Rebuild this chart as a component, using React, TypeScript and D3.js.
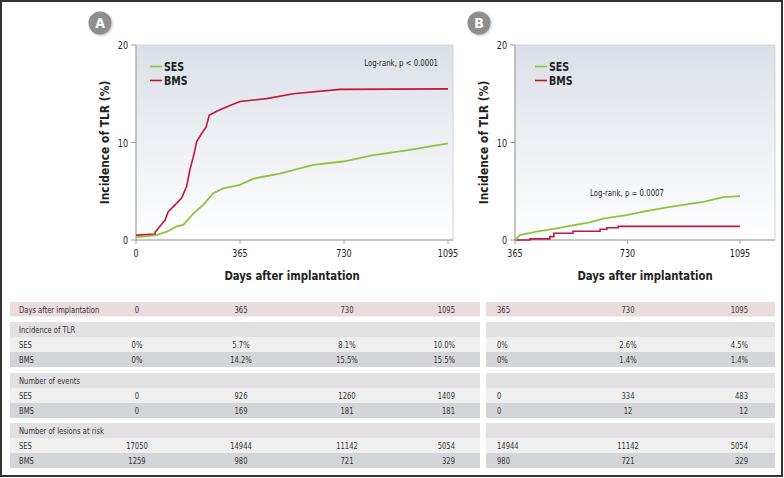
import React from "react";
import * as d3 from "d3";

// ---------- data ----------
const daysBmsA = [0, 67, 67, 84, 102, 113, 137, 160, 178, 189, 201, 213, 230, 246, 257, 283, 330, 365, 459, 552, 716, 1095];
const bmsA = [0.5, 0.6, 0.8, 1.4, 2.05, 2.9, 3.6, 4.3, 5.5, 7.2, 8.5, 10.1, 10.9, 11.6, 12.8, 13.2, 13.8, 14.2, 14.5, 15.0, 15.45, 15.5];
const daysSesA = [0, 72, 108, 143, 166, 201, 236, 271, 306, 365, 412, 505, 622, 727, 833, 950, 1095];
const sesA = [0.27, 0.5, 0.85, 1.4, 1.55, 2.7, 3.6, 4.8, 5.3, 5.65, 6.3, 6.8, 7.7, 8.05, 8.7, 9.2, 9.9];

const daysSesB = [365, 381, 435, 500, 543, 608, 651, 727, 781, 868, 976, 1041, 1095];
const sesB = [0, 0.5, 0.85, 1.2, 1.44, 1.8, 2.2, 2.56, 2.9, 3.4, 3.9, 4.4, 4.5];
const daysBmsB = [365, 414, 478, 491, 553, 641, 663, 700, 1095];
const bmsB = [0, 0.12, 0.35, 0.7, 0.9, 1.1, 1.26, 1.4, 1.4];

const yTicks = [0, 10, 20];
const xTicksA = [0, 365, 730, 1095];
const xTicksB = [365, 730, 1095];

const seriesNames = ["SES", "BMS"];
const pLabelA = "Log-rank, p < 0.0001";
const pLabelB = "Log-rank, p = 0.0007";

const tableHeaderA = ["0", "365", "730", "1095"];
const incSesA = ["0%", "5.7%", "8.1%", "10.0%"];
const incBmsA = ["0%", "14.2%", "15.5%", "15.5%"];
const evSesA = ["0", "926", "1260", "1409"];
const evBmsA = ["0", "169", "181", "181"];
const riskSesA = ["17050", "14944", "11142", "5054"];
const riskBmsA = ["1259", "980", "721", "329"];

const tableHeaderB = ["365", "730", "1095"];
const incSesB = ["0%", "2.6%", "4.5%"];
const incBmsB = ["0%", "1.4%", "1.4%"];
const evSesB = ["0", "334", "483"];
const evBmsB = ["0", "12", "12"];
const riskSesB = ["14944", "11142", "5054"];
const riskBmsB = ["980", "721", "329"];

// ---------- styles ----------
const FONT = "'DejaVu Sans Condensed', 'Liberation Sans Narrow', sans-serif";
const SES_COLOR = "#8cc43f";
const BMS_COLOR = "#c4143c";
const TEXT = "#222";

function T(props: {
  x: number;
  y: number;
  size: number;
  sx?: number;
  anchor?: string;
  bold?: boolean;
  rotate?: number;
  fill?: string;
  children: React.ReactNode;
}) {
  const sx = props.sx ?? 1;
  const rot = props.rotate ? ` rotate(${props.rotate})` : "";
  return (
    <text
      transform={`translate(${props.x},${props.y})${rot} scale(${sx},1)`}
      textAnchor={props.anchor || "start"}
      fontFamily={FONT}
      fontSize={props.size}
      fontWeight={props.bold ? "bold" : "normal"}
      fill={props.fill || TEXT}
    >
      {props.children}
    </text>
  );
}

type PanelProps = {
  id: string;
  badge: string;
  badgeX: number;
  x0: number;
  x1: number;
  boxRight: number;
  domain: [number, number];
  ticks: number[];
  ses: [number[], number[]];
  bms: [number[], number[]];
  bmsStep: boolean;
  pLabel: string;
  pX: number;
  pY: number;
  pAnchor: string;
  legendX: number;
  titleX: number;
};

const TOP = 45;
const BOTTOM = 240;

function Panel(p: PanelProps) {
  const x = d3.scaleLinear().domain(p.domain).range([p.x0, p.x1]);
  const y = d3.scaleLinear().domain([0, 20]).range([BOTTOM, TOP]);
  const mk = (step: boolean) =>
    d3
      .line<[number, number]>()
      .x((d) => x(d[0]))
      .y((d) => y(d[1]))
      .curve(step ? d3.curveStepAfter : d3.curveLinear);
  const sesPts = p.ses[0].map((d, i) => [d, p.ses[1][i]] as [number, number]);
  const bmsPts = p.bms[0].map((d, i) => [d, p.bms[1][i]] as [number, number]);
  const gid = "grad" + p.id;
  return (
    <g>
      <defs>
        <linearGradient id={gid} x1="0" y1="0" x2="0" y2="1">
          <stop offset="0" stopColor="#dbe0e8" />
          <stop offset="1" stopColor="#ffffff" />
        </linearGradient>
        <filter id={"sh" + p.id} x="-50%" y="-50%" width="200%" height="200%">
          <feDropShadow dx="1" dy="1" stdDeviation="1" floodColor="#000" floodOpacity="0.25" />
        </filter>
      </defs>
      <circle cx={p.badgeX} cy={23} r={11.5} fill="#8e8e8e" filter={`url(#sh${p.id})`} />
      <T x={p.badgeX} y={28} size={14} bold anchor="middle" fill="#fff">
        {p.badge}
      </T>
      <rect x={p.x0} y={TOP} width={p.boxRight - p.x0} height={BOTTOM - TOP} fill={`url(#${gid})`} stroke="#d0d3d8" strokeWidth={1} />
      <line x1={p.x0} x2={p.x0} y1={TOP} y2={BOTTOM} stroke="#a0a0a0" />
      <line x1={p.x0} x2={p.boxRight} y1={BOTTOM} y2={BOTTOM} stroke="#a0a0a0" />
      {yTicks.map((t) => (
        <g key={"y" + t}>
          <line x1={p.x0 - 5} x2={p.x0} y1={y(t)} y2={y(t)} stroke="#a0a0a0" />
          <T x={p.x0 - 8} y={y(t) + 4} size={10.5} sx={0.85} anchor="end">
            {t}
          </T>
        </g>
      ))}
      {p.ticks.map((t) => (
        <g key={"x" + t}>
          <line x1={x(t)} x2={x(t)} y1={BOTTOM} y2={BOTTOM + 4} stroke="#a0a0a0" />
          <T x={x(t)} y={BOTTOM + 17} size={10.5} sx={0.85} anchor="middle">
            {t}
          </T>
        </g>
      ))}
      <path d={mk(p.bmsStep)(bmsPts) || ""} fill="none" stroke={BMS_COLOR} strokeWidth={1.6} />
      <path d={mk(false)(sesPts) || ""} fill="none" stroke={SES_COLOR} strokeWidth={1.8} />
      {seriesNames.map((s, i) => (
        <g key={s}>
          <line
            x1={p.legendX}
            x2={p.legendX + 12}
            y1={66.5 + i * 14}
            y2={66.5 + i * 14}
            stroke={i === 0 ? SES_COLOR : BMS_COLOR}
            strokeWidth={1.6}
          />
          <T x={p.legendX + 14} y={71 + i * 14} size={12} sx={0.88} bold>
            {s}
          </T>
        </g>
      ))}
      <T x={p.pX} y={p.pY} size={9} sx={0.86} anchor={p.pAnchor}>
        {p.pLabel}
      </T>
      <T x={p.x0 - 27} y={(TOP + BOTTOM) / 2} size={12.5} sx={0.95} bold anchor="middle" rotate={-90}>
        Incidence of TLR (%)
      </T>
      <T x={p.titleX} y={280} size={12.5} sx={0.9} bold anchor="middle">
        Days after implantation
      </T>
    </g>
  );
}

type Col = { x: number; anchor: string };

const ROW_H = 15;
const HEADER_Y = 302;
const GROUP_Y = [322, 373, 423];

const PINK = "#eadcdd";
const GROUP_BG = "#e2e0e2";
const SES_BG = "#efeff0";
const BMS_BG = "#d3d5d8";

const TS = 9;
const TSX = 0.84;

function Table(props: {
  x0: number;
  x1: number;
  cols: Col[];
  header: string[];
  groups: { title: string; ses: string[]; bms: string[] }[];
  labels: boolean;
}) {
  const { x0, x1, cols } = props;
  const w = x1 - x0;
  const cell = (vals: string[], yy: number, key: string) =>
    vals.map((v, i) => (
      <T key={key + i} x={cols[i].x} y={yy + 10.5} size={TS} sx={TSX} anchor={cols[i].anchor} fill="#333">
        {v}
      </T>
    ));
  return (
    <g>
      <rect x={x0} y={HEADER_Y} width={w} height={14.5} fill={PINK} />
      {props.labels && (
        <T x={x0 + 9} y={HEADER_Y + 10.5} size={TS} sx={TSX} fill="#333">
          Days after implantation
        </T>
      )}
      {cell(props.header, HEADER_Y, "h")}
      {props.groups.map((g, gi) => {
        const gy = GROUP_Y[gi];
        return (
          <g key={gi}>
            <rect x={x0} y={gy} width={w} height={ROW_H} fill={GROUP_BG} />
            <rect x={x0} y={gy + ROW_H} width={w} height={ROW_H} fill={SES_BG} />
            <rect x={x0} y={gy + 2 * ROW_H} width={w} height={ROW_H} fill={BMS_BG} />
            {props.labels && (
              <>
                <T x={x0 + 9} y={gy + 10.5} size={TS} sx={TSX} fill="#333">
                  {g.title}
                </T>
                <T x={x0 + 9} y={gy + ROW_H + 10.5} size={TS} sx={TSX} fill="#333">
                  {seriesNames[0]}
                </T>
                <T x={x0 + 9} y={gy + 2 * ROW_H + 10.5} size={TS} sx={TSX} fill="#333">
                  {seriesNames[1]}
                </T>
              </>
            )}
            {cell(g.ses, gy + ROW_H, "s" + gi)}
            {cell(g.bms, gy + 2 * ROW_H, "b" + gi)}
          </g>
        );
      })}
    </g>
  );
}

export default function App() {
  return (
    <svg width={784} height={478} style={{ position: "absolute", left: 0, top: 0, background: "#fff" }}>
      <rect x={1} y={1} width={781} height={475} fill="#fff" stroke="#333" strokeWidth={2} />
      <Panel
        id="A"
        badge="A"
        badgeX={100}
        x0={136}
        x1={448}
        boxRight={453}
        domain={[0, 1095]}
        ticks={xTicksA}
        ses={[daysSesA, sesA]}
        bms={[daysBmsA, bmsA]}
        bmsStep={false}
        pLabel={pLabelA}
        pX={438}
        pY={66}
        pAnchor="end"
        legendX={150}
        titleX={292}
      />
      <Panel
        id="B"
        badge="B"
        badgeX={479}
        x0={515}
        x1={740}
        boxRight={775}
        domain={[365, 1095]}
        ticks={xTicksB}
        ses={[daysSesB, sesB]}
        bms={[daysBmsB, bmsB]}
        bmsStep={true}
        pLabel={pLabelB}
        pX={627}
        pY={196}
        pAnchor="middle"
        legendX={535}
        titleX={645}
      />
      <Table
        x0={10}
        x1={480}
        labels={true}
        cols={[
          { x: 137, anchor: "middle" },
          { x: 241, anchor: "middle" },
          { x: 347, anchor: "middle" },
          { x: 455, anchor: "end" },
        ]}
        header={tableHeaderA}
        groups={[
          { title: "Incidence of TLR", ses: incSesA, bms: incBmsA },
          { title: "Number of events", ses: evSesA, bms: evBmsA },
          { title: "Number of lesions at risk", ses: riskSesA, bms: riskBmsA },
        ]}
      />
      <Table
        x0={486}
        x1={775}
        labels={false}
        cols={[
          { x: 497, anchor: "start" },
          { x: 628, anchor: "middle" },
          { x: 748, anchor: "end" },
        ]}
        header={tableHeaderB}
        groups={[
          { title: "", ses: incSesB, bms: incBmsB },
          { title: "", ses: evSesB, bms: evBmsB },
          { title: "", ses: riskSesB, bms: riskBmsB },
        ]}
      />
    </svg>
  );
}
